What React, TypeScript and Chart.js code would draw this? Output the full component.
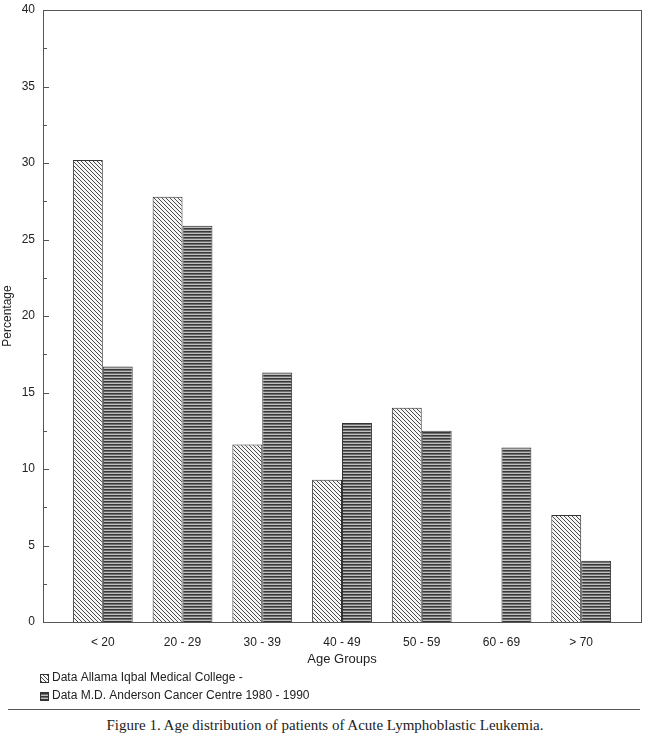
import React, { useEffect, useRef } from "react";
import { Chart, registerables } from "chart.js";

Chart.register(...registerables);

const categories = ["< 20", "20 - 29", "30 - 39", "40 - 49", "50 - 59", "60 - 69", "> 70"];
const allamaIqbal = [30.2, 27.8, 11.6, 9.3, 14.0, 0, 7.0];
const mdAnderson = [16.7, 25.9, 16.3, 13.0, 12.5, 11.4, 4.0];
const seriesLabels = ["Data Allama Iqbal Medical College -", "Data M.D. Anderson Cancer Centre 1980 - 1990"];
const yTicks = [0, 5, 10, 15, 20, 25, 30, 35, 40];

function makeDiagPattern(): CanvasPattern | string {
  const c = document.createElement("canvas");
  c.width = 4;
  c.height = 4;
  const g = c.getContext("2d");
  if (!g) return "#ddd";
  g.fillStyle = "#f6f6f6";
  g.fillRect(0, 0, 4, 4);
  g.strokeStyle = "#4a4a4a";
  g.lineWidth = 1.0;
  g.beginPath();
  g.moveTo(-1, -1);
  g.lineTo(5, 5);
  g.moveTo(-1, 3);
  g.lineTo(1, 5);
  g.moveTo(3, -1);
  g.lineTo(5, 1);
  g.stroke();
  return g.createPattern(c, "repeat") as CanvasPattern;
}

function makeHorizPattern(): CanvasPattern | string {
  const c = document.createElement("canvas");
  c.width = 4;
  c.height = 3;
  const g = c.getContext("2d");
  if (!g) return "#666";
  g.fillStyle = "#383838";
  g.fillRect(0, 0, 4, 1);
  g.fillStyle = "#6e6e6e";
  g.fillRect(0, 1, 4, 1);
  g.fillStyle = "#c0c0c0";
  g.fillRect(0, 2, 4, 1);
  return g.createPattern(c, "repeat") as CanvasPattern;
}

export default function App() {
  const ref = useRef<HTMLCanvasElement | null>(null);

  useEffect(() => {
    if (!ref.current) return;
    const diag = makeDiagPattern();
    const horiz = makeHorizPattern();

    const framePlugin = {
      id: "frameAndTicks",
      afterDatasetsDraw(chart: any) {
        const { ctx, chartArea } = chart;
        const y = chart.scales.y;
        ctx.save();
        ctx.strokeStyle = "#555";
        ctx.lineWidth = 1;
        ctx.strokeRect(chartArea.left + 0.5, chartArea.top + 0.5, chartArea.right - chartArea.left, chartArea.bottom - chartArea.top);
        ctx.beginPath();
        for (let v = 0; v <= 40; v += 2.5) {
          const py = Math.round(y.getPixelForValue(v)) + 0.5;
          const len = v % 5 === 0 ? 6 : 4;
          ctx.moveTo(chartArea.left, py);
          ctx.lineTo(chartArea.left + len, py);
        }
        ctx.stroke();
        ctx.restore();
      },
      afterDraw(chart: any) {
        const { ctx, chartArea } = chart;
        ctx.save();
        ctx.font = "12px 'Liberation Sans', Arial, sans-serif";
        ctx.fillStyle = "#222";
        ctx.textBaseline = "middle";
        const baseY = chartArea.bottom + 56;
        chart.data.datasets.forEach((ds: any, i: number) => {
          const yy = baseY + i * 18;
          const x0 = 40;
          ctx.fillStyle = ds.backgroundColor;
          ctx.fillRect(x0, yy - 4, 8, 8);
          ctx.strokeStyle = "#333";
          ctx.lineWidth = 1;
          ctx.strokeRect(x0 + 0.5, yy - 3.5, 8, 8);
          ctx.fillStyle = "#222";
          ctx.fillText(ds.label, x0 + 12, yy);
        });
        ctx.restore();
      },
    };

    const chart = new Chart(ref.current, {
      type: "bar",
      data: {
        datasets: [
          {
            label: seriesLabels[0],
            data: allamaIqbal.map((v, i) => ({ x: i, y: v })),
            backgroundColor: diag as any,
            borderColor: "#333",
            borderWidth: 1,
            categoryPercentage: 0.75,
            barPercentage: 1.0,
          },
          {
            label: seriesLabels[1],
            data: mdAnderson.map((v, i) => ({ x: i, y: v })),
            backgroundColor: horiz as any,
            borderColor: "#333",
            borderWidth: 1,
            categoryPercentage: 0.75,
            barPercentage: 1.0,
          },
        ],
      },
      options: {
        animation: false,
        responsive: false,
        maintainAspectRatio: false,
        layout: { padding: { top: 10, right: 9, left: 0, bottom: 38 } },
        plugins: { legend: { display: false }, tooltip: { enabled: false } },
        scales: {
          x: {
            type: "linear",
            offset: false,
            min: -0.75,
            max: 6.75,
            grid: { display: false, drawTicks: false, offset: false },
            border: { display: false },
            afterBuildTicks: (scale: any) => {
              scale.ticks = categories.map((_, i) => ({ value: i }));
            },
            afterFit: (scale: any) => {
              scale.height = 45;
              scale.paddingLeft = 0;
              scale.paddingRight = 0;
            },
            ticks: {
              autoSkip: false,
              maxRotation: 0,
              padding: 13,
              color: "#222",
              font: { family: "'Liberation Sans', Arial, sans-serif", size: 12 },
              callback: (v: any) => categories[v as number] ?? "",
            },
            title: {
              display: true,
              text: "Age Groups",
              color: "#222",
              font: { family: "'Liberation Sans', Arial, sans-serif", size: 13 },
              padding: { top: 3, bottom: 0 },
            },
          },
          y: {
            min: 0,
            max: 40,
            grid: { display: false, drawTicks: false },
            border: { display: false },
            afterBuildTicks: (scale: any) => {
              scale.ticks = yTicks.map((v) => ({ value: v }));
            },
            afterFit: (scale: any) => {
              scale.width = 43;
              scale.paddingTop = 0;
              scale.paddingBottom = 0;
            },
            ticks: {
              padding: 8,
              color: "#222",
              font: { family: "'Liberation Sans', Arial, sans-serif", size: 12 },
            },
            title: {
              display: true,
              text: "Percentage",
              color: "#222",
              font: { family: "'Liberation Sans', Arial, sans-serif", size: 12 },
              padding: { top: 0, bottom: 0 },
            },
          },
        },
      },
      plugins: [framePlugin],
    });
    return () => chart.destroy();
  }, []);

  return (
    <div style={{ position: "absolute", left: 0, top: 0, width: 650, height: 747, background: "#fff" }}>
      <canvas ref={ref} width={650} height={705} style={{ display: "block", width: 650, height: 705 }} />
      <div style={{ position: "absolute", left: 8, top: 709, width: 632, borderTop: "1.5px solid #555" }} />
      <div
        style={{
          position: "absolute",
          left: 0,
          top: 717,
          width: 650,
          textAlign: "center",
          fontFamily: "'Liberation Serif', 'Times New Roman', serif",
          fontSize: 15,
          color: "#222",
        }}
      >
        Figure 1. Age distribution of patients of Acute Lymphoblastic Leukemia.
      </div>
    </div>
  );
}
